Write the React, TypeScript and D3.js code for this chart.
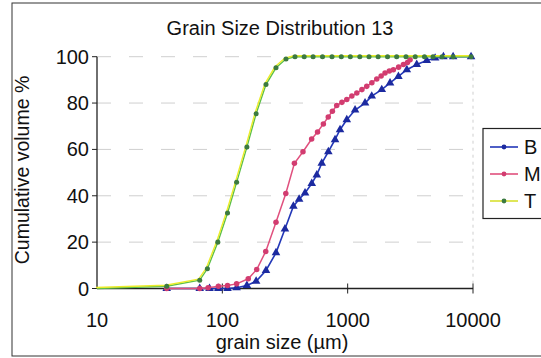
import React, { useEffect, useRef } from 'react';
import * as d3 from 'd3';

// grain size (µm) and cumulative volume (%) per sample
const tSize = [10, 36, 66, 76, 92, 110, 130, 157, 186, 223, 268, 322, 380, 450, 530, 630, 750, 890, 1050, 1250, 1480, 1750, 2080, 2460, 2920, 3460, 4100, 4800, 5670, 6940, 9650];
const tVol = [0, 1, 3.6, 8.5, 20, 32.6, 45.8, 61, 75.4, 88, 95.2, 99, 100, 100, 100, 100, 100, 100, 100, 100, 100, 100, 100, 100, 100, 100, 100, 100, 100, 100, 100];

const mSize = [36, 66, 77, 93, 110, 130, 161, 188, 222, 268, 321, 376, 440, 516, 575, 640, 700, 755, 818, 900, 984, 1080, 1183, 1300, 1420, 1560, 1707, 1850, 1987, 2150, 2316, 2550, 2785, 3000, 3148];
const mVol = [0, 0, 0.3, 1, 1.3, 2, 4.2, 8.2, 16, 28.6, 41, 54, 59, 64.5, 67.5, 71, 74, 76.5, 78.9, 80.3, 81.5, 83, 84.3, 85.8, 87.2, 88.8, 90.4, 91.7, 93, 93.8, 94.4, 95.5, 96.6, 97.5, 98.7];

const bSize = [36, 66, 79, 93, 110, 130, 157, 186, 223, 268, 316, 369, 410, 457, 517, 567, 621, 701, 793, 869, 984, 1146, 1376, 1556, 1871, 2178, 2540, 2965, 3557, 4276, 4986, 5806, 6940, 9650];
const bVol = [0, 0, 0, 0, 0, 0.3, 1.3, 3.1, 7.8, 15.4, 25.7, 35.5, 38.5, 41.2, 45.3, 49, 54, 59, 64.2, 68.5, 72.8, 77, 80, 83, 85.8, 88.7, 91.5, 94.4, 96.6, 98.4, 99.4, 100, 100, 100];

const xTicks = [10, 100, 1000, 10000];
const yTicks = [0, 20, 40, 60, 80, 100];
const legendNames = ['B', 'M', 'T'];

const FONT = 'Liberation Sans, Arial, sans-serif';

const App = () => {
  const svgRef = useRef<SVGSVGElement>(null);

  useEffect(() => {
    const svg = d3.select(svgRef.current);
    const width = 541;
    const height = 358;

    const x = d3.scaleLog().domain([10, 10000]).range([97, 473]);
    const y = d3.scaleLinear().domain([0, 100]).range([288.5, 56.7]);

    svg.attr('width', width).attr('height', height);

    // outer chart frame
    svg.append('rect')
      .attr('x', 12).attr('y', 3)
      .attr('width', 560).attr('height', 353)
      .attr('fill', 'white').attr('stroke', '#333').attr('stroke-width', 1);

    // faint gridlines
    svg.append('g')
      .selectAll('line')
      .data(yTicks.filter((d) => d > 0))
      .enter()
      .append('line')
      .attr('x1', x(10)).attr('x2', x(10000))
      .attr('y1', (d) => y(d)).attr('y2', (d) => y(d))
      .attr('stroke', '#cfcfcf')
      .attr('stroke-dasharray', '14 18')
      .attr('stroke-width', 1);

    // right edge of plot area
    svg.append('line')
      .attr('x1', x(10000)).attr('x2', x(10000))
      .attr('y1', y(100)).attr('y2', y(0))
      .attr('stroke', '#cfcfcf')
      .attr('stroke-dasharray', '3 4');

    // axes
    svg.append('line')
      .attr('x1', x(10)).attr('x2', x(10))
      .attr('y1', y(100)).attr('y2', y(0))
      .attr('stroke', '#222').attr('stroke-width', 1.3);
    svg.append('line')
      .attr('x1', x(10)).attr('x2', x(10000))
      .attr('y1', y(0)).attr('y2', y(0))
      .attr('stroke', '#222').attr('stroke-width', 1.3);

    svg.append('g')
      .selectAll('line')
      .data(yTicks)
      .enter()
      .append('line')
      .attr('x1', x(10) - 5).attr('x2', x(10))
      .attr('y1', (d) => y(d)).attr('y2', (d) => y(d))
      .attr('stroke', '#222');

    svg.append('g')
      .selectAll('line')
      .data(xTicks.slice(1))
      .enter()
      .append('line')
      .attr('x1', (d) => x(d)).attr('x2', (d) => x(d))
      .attr('y1', y(0) - 5).attr('y2', y(0) + 5)
      .attr('stroke', '#222');

    svg.append('g')
      .selectAll('text')
      .data(yTicks)
      .enter()
      .append('text')
      .attr('x', 89)
      .attr('y', (d) => y(d) + 7)
      .attr('text-anchor', 'end')
      .attr('font-family', FONT).attr('font-size', 20).attr('fill', '#111')
      .text((d) => d);

    svg.append('g')
      .selectAll('text')
      .data(xTicks)
      .enter()
      .append('text')
      .attr('x', (d) => x(d))
      .attr('y', 326.5)
      .attr('text-anchor', 'middle')
      .attr('font-family', FONT).attr('font-size', 20).attr('fill', '#111')
      .text((d) => d);

    // titles
    svg.append('text')
      .attr('x', 280).attr('y', 35)
      .attr('text-anchor', 'middle')
      .attr('font-family', FONT).attr('font-size', 20).attr('fill', '#111')
      .text('Grain Size Distribution 13');
    svg.append('text')
      .attr('x', 282).attr('y', 349)
      .attr('text-anchor', 'middle')
      .attr('font-family', FONT).attr('font-size', 20).attr('fill', '#111')
      .text('grain size (µm)');
    svg.append('text')
      .attr('transform', 'translate(29,170) rotate(-90)')
      .attr('text-anchor', 'middle')
      .attr('font-family', FONT).attr('font-size', 19.5).attr('fill', '#111')
      .text('Cumulative volume %');

    const line = d3.line<[number, number]>()
      .x((d) => x(d[0]))
      .y((d) => y(d[1]));

    const tData = tSize.map((s, i) => [s, tVol[i]] as [number, number]);
    const mData = mSize.map((s, i) => [s, mVol[i]] as [number, number]);
    const bData = bSize.map((s, i) => [s, bVol[i]] as [number, number]);

    const tri = d3.symbol().type(d3.symbolTriangle).size(32);
    const circ = d3.symbol().type(d3.symbolCircle).size(24);
    const dot = d3.symbol().type(d3.symbolCircle).size(20);

    // B (blue, triangles)
    svg.append('path').datum(bData)
      .attr('d', line).attr('fill', 'none')
      .attr('stroke', '#2338b8').attr('stroke-width', 1.6);
    svg.append('g').selectAll('path').data(bData).enter().append('path')
      .attr('d', tri)
      .attr('transform', (d) => `translate(${x(d[0])},${y(d[1])})`)
      .attr('fill', '#1c2aa0');

    // M (pink, circles)
    svg.append('path').datum(mData)
      .attr('d', line).attr('fill', 'none')
      .attr('stroke', '#e0507e').attr('stroke-width', 1.5);
    svg.append('g').selectAll('path').data(mData).enter().append('path')
      .attr('d', circ)
      .attr('transform', (d) => `translate(${x(d[0])},${y(d[1])})`)
      .attr('fill', '#d23c70');

    // T (yellow/green, dark markers)
    svg.append('path').datum(tData)
      .attr('d', line).attr('fill', 'none')
      .attr('stroke', '#5cbf4a').attr('stroke-width', 1.4);
    svg.append('path').datum(tData)
      .attr('d', line).attr('fill', 'none')
      .attr('transform', 'translate(-1,-1)')
      .attr('stroke', '#ecec2a').attr('stroke-width', 1.4);
    svg.append('g').selectAll('path').data(tData.slice(1)).enter().append('path')
      .attr('d', dot)
      .attr('transform', (d) => `translate(${x(d[0])},${y(d[1])})`)
      .attr('fill', '#3c7a40');

    // legend
    const legend = svg.append('g');
    legend.append('rect')
      .attr('x', 483).attr('y', 128.5)
      .attr('width', 80).attr('height', 90)
      .attr('fill', 'white').attr('stroke', '#222').attr('stroke-width', 1.2);
    const legendColors = ['#2338b8', '#e0507e', '#d8e030'];
    const markerColors = ['#1c2aa0', '#d23c70', '#3c7a40'];
    legendNames.forEach((name, i) => {
      const ly = 147 + i * 27;
      legend.append('line')
        .attr('x1', 490).attr('x2', 518)
        .attr('y1', ly).attr('y2', ly)
        .attr('stroke', legendColors[i]).attr('stroke-width', 1.6);
      legend.append('circle')
        .attr('cx', 504).attr('cy', ly).attr('r', 2.4)
        .attr('fill', markerColors[i]);
      legend.append('text')
        .attr('x', 524).attr('y', ly + 7)
        .attr('font-family', FONT).attr('font-size', 20).attr('fill', '#111')
        .text(name);
    });

    return () => {
      svg.selectAll('*').remove();
    };
  }, []);

  return (
    <svg
      ref={svgRef}
      style={{ position: 'absolute', left: 0, top: 0, background: 'white' }}
    ></svg>
  );
};

export default App;
